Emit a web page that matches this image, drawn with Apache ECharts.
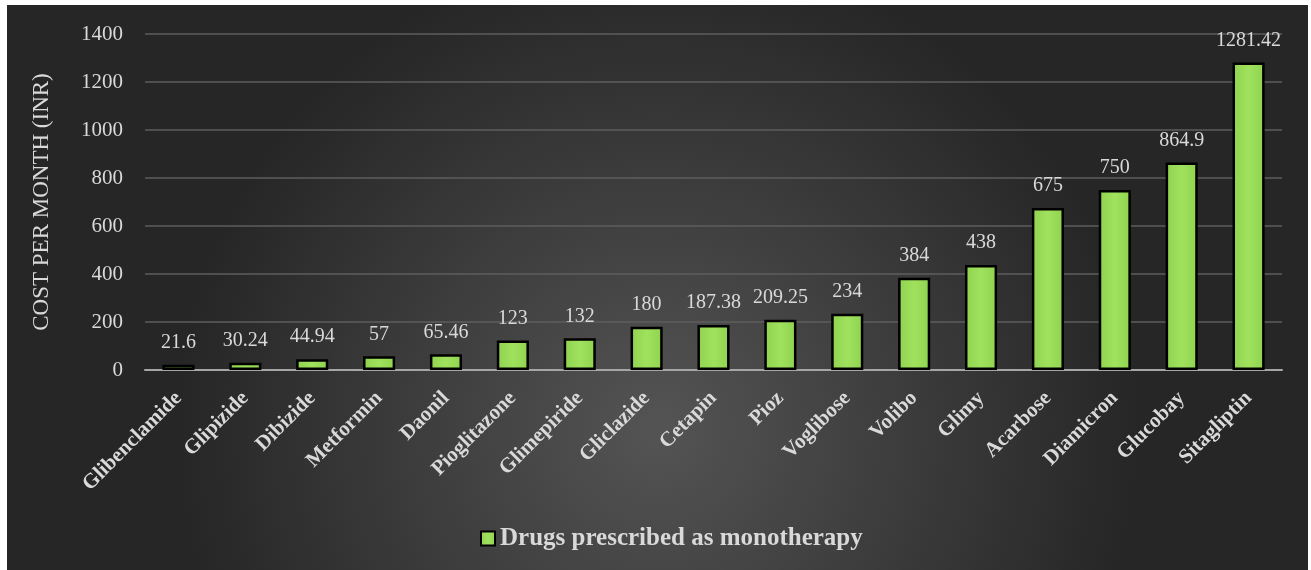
<!DOCTYPE html>
<html>
<head>
<meta charset="utf-8">
<script src="https://cdn.jsdelivr.net/npm/echarts@6/dist/echarts.min.js"></script>
<style>
  html, body { margin: 0; padding: 0; background: #fff; }
  #chart { position: absolute; left: 7px; top: 5px; width: 1301px; height: 565px; }
</style>
</head>
<body>
<div id="chart"></div>
<script>
// drugs, sorted by monthly cost
var drugs = ['Glibenclamide', 'Glipizide', 'Dibizide', 'Metformin', 'Daonil', 'Pioglitazone',
  'Glimepiride', 'Gliclazide', 'Cetapin', 'Pioz', 'Voglibose', 'Volibo', 'Glimy',
  'Acarbose', 'Diamicron', 'Glucobay', 'Sitagliptin'];
var costs = [21.6, 30.24, 44.94, 57, 65.46, 123, 132, 180, 187.38, 209.25, 234, 384, 438,
  675, 750, 864.9, 1281.42];
var seriesName = 'Drugs prescribed as monotherapy';
var axisTitle = 'COST PER MONTH (INR)';

var serif = '"Liberation Serif", "Times New Roman", serif';
var chart = echarts.init(document.getElementById('chart'));

chart.setOption({
  backgroundColor: {
    type: 'radial', x: 0.5, y: 0.75, r: 0.85,
    colorStops: [
      { offset: 0, color: '#545454' },
      { offset: 1, color: '#262626' }
    ]
  },
  animation: false,
  textStyle: { fontFamily: serif },
  grid: { left: 138, right: 26, top: 29, bottom: 200 },
  legend: {
    bottom: 14,
    left: 468,
    itemWidth: 14,
    itemHeight: 14,
    icon: 'rect',
    textStyle: { color: '#d9d9d9', fontSize: 25, fontWeight: 'bold', fontFamily: serif },
    itemStyle: { borderColor: '#000', borderWidth: 2 },
    data: [seriesName]
  },
  xAxis: {
    type: 'category',
    data: drugs,
    axisLine: { lineStyle: { color: '#a6a6a6', width: 2 } },
    axisTick: { show: false },
    axisLabel: {
      rotate: 45,
      interval: 0,
      color: '#d9d9d9',
      fontSize: 21,
      fontWeight: 'bold',
      fontFamily: serif,
      margin: 25
    }
  },
  yAxis: {
    type: 'value',
    min: 0,
    max: 1400,
    interval: 200,
    name: axisTitle,
    nameLocation: 'middle',
    nameGap: 92,
    nameTextStyle: { color: '#d9d9d9', fontSize: 23, fontFamily: serif },
    axisLine: { show: false },
    axisTick: { show: false },
    axisLabel: {
      color: '#d9d9d9', fontSize: 21, fontFamily: serif, margin: 22,
      formatter: function (v) { return String(v); }
    },
    splitLine: { lineStyle: { color: '#5e5e5e', width: 1.5 } }
  },
  series: [{
    name: seriesName,
    type: 'bar',
    data: costs,
    barWidth: '48%',
    itemStyle: {
      color: {
        type: 'linear', x: 0, y: 0, x2: 1, y2: 0,
        colorStops: [
          { offset: 0, color: '#8fd24f' },
          { offset: 0.5, color: '#a0e25e' },
          { offset: 1, color: '#8fd24f' }
        ]
      },
      borderColor: '#000',
      borderWidth: 2.5
    },
    label: {
      show: true,
      position: 'top',
      distance: 12,
      color: '#d9d9d9',
      fontSize: 20,
      fontFamily: serif
    }
  }]
});
</script>
</body>
</html>
